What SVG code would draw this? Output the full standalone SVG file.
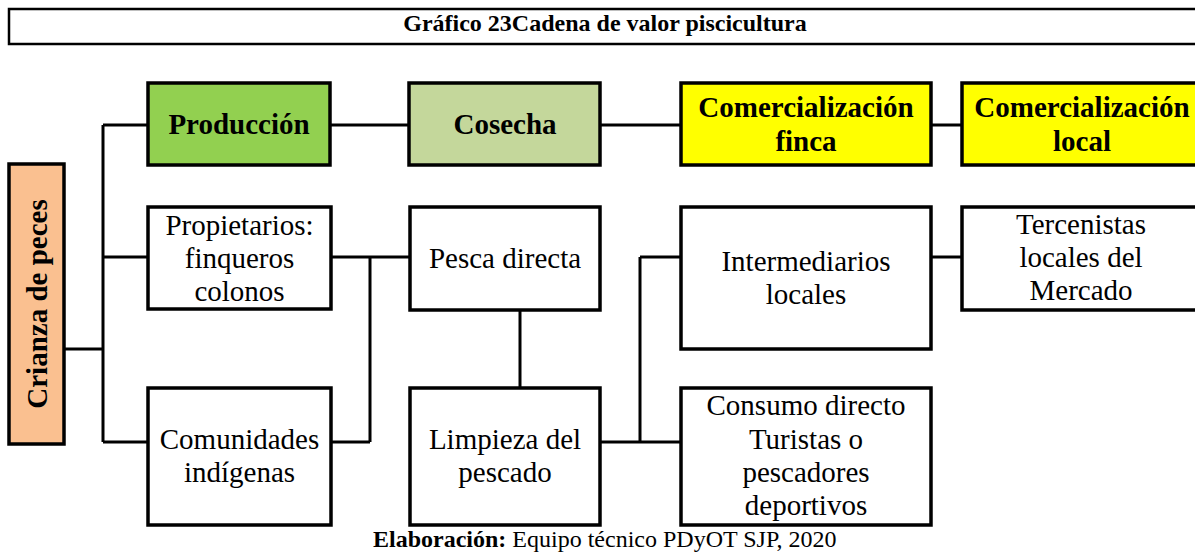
<svg xmlns="http://www.w3.org/2000/svg" width="1195" height="554" viewBox="0 0 1195 554">
<style>
.box{stroke:#000;stroke-width:3.5;fill:#fff}
.c{stroke:#000;stroke-width:3;fill:none}
text{font-family:"Liberation Serif","Times New Roman",serif;fill:#000}
.t{font-size:29px;text-anchor:middle}
.b{font-weight:bold}
</style>
<rect width="1195" height="554" fill="#fff"/>
<g id="title">
<rect x="9" y="9" width="1195" height="35" fill="#fff" stroke="#000" stroke-width="2.5"/>
<text x="605" y="31" font-size="24" font-weight="bold" text-anchor="middle">Gráfico 23Cadena de valor piscicultura</text>
</g>
<g id="connectors">
<path class="c" d="M64 349H103M103 125V442M103 125H148M103 257H148M103 442H148"/>
<path class="c" d="M330 125H409M600 125H681M931 125H962"/>
<path class="c" d="M331 257H410M370 257V442M331 442H370"/>
<path class="c" d="M520 310V387"/>
<path class="c" d="M600 442H681M640 257V442M640 257H681"/>
<path class="c" d="M931 257H962"/>
</g>
<g id="crianza">
<rect class="box" x="9" y="164" width="55" height="280" fill="#FAC090" style="fill:#FAC090"/>
<text class="t b" transform="translate(47,304) rotate(-90)">Crianza de peces</text>
</g>
<g id="produccion">
<rect class="box" x="148" y="83" width="182" height="82" style="fill:#92D050"/>
<text class="t b" x="239" y="134">Producción</text>
</g>
<g id="cosecha">
<rect class="box" x="409" y="83" width="191" height="82" style="fill:#C4D79B"/>
<text class="t b" x="505" y="134">Cosecha</text>
</g>
<g id="com-finca">
<rect class="box" x="681" y="83" width="250" height="82" style="fill:#FFFF00"/>
<text class="t b" x="806" y="117">Comercialización</text>
<text class="t b" x="806" y="151">finca</text>
</g>
<g id="com-local">
<rect class="box" x="962" y="83" width="240" height="82" style="fill:#FFFF00"/>
<text class="t b" x="1082" y="117">Comercialización</text>
<text class="t b" x="1082" y="151">local</text>
</g>
<g id="propietarios">
<rect class="box" x="148" y="207" width="183" height="102"/>
<text class="t" x="239.5" y="235">Propietarios:</text>
<text class="t" x="239.5" y="268">finqueros</text>
<text class="t" x="239.5" y="301">colonos</text>
</g>
<g id="comunidades">
<rect class="box" x="148" y="388" width="183" height="137"/>
<text class="t" x="239.5" y="449">Comunidades</text>
<text class="t" x="239.5" y="482">indígenas</text>
</g>
<g id="pesca">
<rect class="box" x="410" y="207" width="190" height="103"/>
<text class="t" x="505" y="268">Pesca directa</text>
</g>
<g id="limpieza">
<rect class="box" x="410" y="388" width="190" height="137"/>
<text class="t" x="505" y="449">Limpieza del</text>
<text class="t" x="505" y="482">pescado</text>
</g>
<g id="intermediarios">
<rect class="box" x="681" y="207" width="250" height="142"/>
<text class="t" x="806" y="271">Intermediarios</text>
<text class="t" x="806" y="304">locales</text>
</g>
<g id="tercenistas">
<rect class="box" x="962" y="207" width="240" height="103"/>
<text class="t" x="1081" y="234">Tercenistas</text>
<text class="t" x="1081" y="267">locales del</text>
<text class="t" x="1081" y="300">Mercado</text>
</g>
<g id="consumo">
<rect class="box" x="681" y="388" width="250" height="137"/>
<text class="t" x="806" y="415">Consumo directo</text>
<text class="t" x="806" y="449">Turistas o</text>
<text class="t" x="806" y="482">pescadores</text>
<text class="t" x="806" y="515">deportivos</text>
</g>
<g id="footer">
<text x="373" y="547" font-size="24"><tspan font-weight="bold">Elaboración:</tspan> Equipo técnico PDyOT SJP, 2020</text>
</g>
</svg>
